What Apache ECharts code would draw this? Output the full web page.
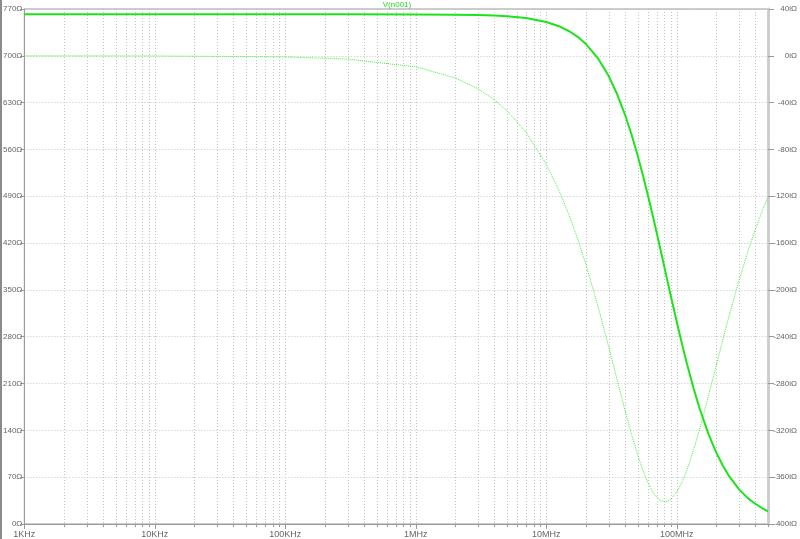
<!DOCTYPE html>
<html>
<head>
<meta charset="utf-8">
<script src="https://cdn.jsdelivr.net/npm/echarts@6/dist/echarts.min.js"></script>
<style>html,body{margin:0;padding:0;background:#fff}#c{width:800px;height:539px}</style>
</head>
<body>
<div id="c"></div>
<script>
// Frequencies (Hz)
const freqs = [1e3, 1e4, 1e5, 3e5, 1e6, 2e6, 3e6, 4e6, 5e6, 7e6, 1e7, 1.25e7, 1.5e7, 1.75e7, 2e7, 2.5e7, 3e7, 3.5e7, 4e7, 4.5e7, 5e7, 5.5e7, 6e7, 6.5e7, 7e7, 7.5e7, 8e7, 8.5e7, 9e7, 1e8, 1.1e8, 1.2e8, 1.35e8, 1.5e8, 1.75e8, 2e8, 2.25e8, 2.5e8, 3e8, 3.5e8, 4e8, 4.5e8, 5e8];
// Real part (Ω), thick trace, left axis
const reZ = [762, 762, 762, 762, 761.9, 761.5, 761.0, 760.2, 759.1, 756.4, 750.6, 744.3, 736.7, 728.0, 718.2, 695.7, 670.1, 642.1, 612.6, 582.3, 551.8, 521.5, 492.0, 463.5, 436.2, 410.3, 385.7, 362.6, 341.0, 301.9, 267.9, 238.5, 201.7, 172.0, 134.4, 107.4, 87.4, 72.4, 51.8, 38.7, 30.0, 23.9, 19.0];
// Imaginary part (iΩ), dotted trace, right axis
const imZ = [0, -0.1, -0.9, -2.8, -9.4, -18.8, -28.2, -37.5, -46.9, -65.4, -92.7, -114.9, -136.4, -157.3, -177.3, -214.7, -248.2, -277.5, -302.5, -323.5, -340.6, -354.1, -364.5, -372.0, -377.0, -379.9, -381.0, -380.6, -378.9, -372.7, -363.8, -353.4, -336.2, -318.6, -290.5, -265.1, -242.9, -223.4, -191.8, -167.4, -148.2, -132.9, -120.3];
// Axis tick labels
const xTickLabels = {1e3: '1KHz', 1e4: '10KHz', 1e5: '100KHz', 1e6: '1MHz', 1e7: '10MHz', 1e8: '100MHz'};
const leftUnit = 'Ω';
const rightUnit = 'iΩ';
const traceName = 'V(n001)';

// vertical grid line frequencies (1..9 per decade)
const gridFreqs = [];
for (let d = 3; d <= 8; d++) {
  for (let m = 1; m <= 9; m++) {
    const f = m * Math.pow(10, d);
    if (f > 5e8) break;
    gridFreqs.push([f, m === 1 ? 1 : 0]);
  }
}

const chart = echarts.init(document.getElementById('c'), null, {renderer: 'canvas'});
const font = 'Liberation Sans, Arial, sans-serif';
chart.setOption({
  animation: false,
  backgroundColor: '#fff',
  title: {
    text: traceName, left: 397, top: 1, textAlign: 'center', padding: 0,
    textStyle: {fontSize: 8, fontWeight: 'normal', color: '#22dd22', fontFamily: font}
  },
  graphic: [{type: 'rect', shape: {x: 0, y: 0, width: 2, height: 539}, style: {fill: '#8a8a8a'}}],
  grid: {left: 24, right: 30, top: 9, bottom: 15, show: true, borderColor: '#9a9a9a', borderWidth: 1},
  xAxis: {
    type: 'log', logBase: 10, min: 1e3, max: 5e8,
    axisLine: {show: true, lineStyle: {color: '#9a9a9a'}},
    axisTick: {show: false},
    minorTick: {show: false},
    splitLine: {show: false},
    minorSplitLine: {show: false},
    axisLabel: {
      fontSize: 9, color: '#666', fontFamily: font, margin: 6,
      formatter: v => xTickLabels[Math.round(v)] || ''
    }
  },
  yAxis: [{
    type: 'value', min: 0, max: 770, interval: 70, position: 'left',
    axisLine: {show: true, lineStyle: {color: '#9a9a9a'}},
    axisTick: {show: true, length: 4, lineStyle: {color: '#9a9a9a'}},
    splitLine: {show: true, lineStyle: {color: '#c4c4c4', type: [1, 2], width: 1}},
    axisLabel: {fontSize: 8, color: '#666', fontFamily: font, margin: 2, formatter: v => v + leftUnit}
  }, {
    type: 'value', min: -400, max: 40, interval: 40, position: 'right',
    axisLine: {show: true, lineStyle: {color: '#cfcfcf', width: 3}},
    axisTick: {show: true, length: 6, lineStyle: {color: '#9a9a9a'}},
    splitLine: {show: false},
    axisLabel: {fontSize: 8, color: '#666', fontFamily: font, margin: 29, align: 'right', formatter: v => v + rightUnit}
  }],
  series: [{
    type: 'custom', xAxisIndex: 0, yAxisIndex: 0, silent: true, clip: false, z: 1,
    data: gridFreqs,
    encode: {x: 0},
    renderItem: function (params, api) {
      const f = api.value(0);
      const major = api.value(1);
      const top = api.coord([f, 770]);
      const bot = api.coord([f, 0]);
      const x = Math.round(top[0]) + 0.5;
      const children = [];
      if (f > 1e3) {
        children.push({type: 'line', shape: {x1: x, y1: top[1], x2: x, y2: bot[1]},
          style: {stroke: '#c4c4c4', lineDash: [1, 2], lineWidth: 1}});
      }
      children.push({type: 'line', shape: {x1: x, y1: bot[1], x2: x, y2: bot[1] + (major ? 5 : 3)},
        style: {stroke: '#9a9a9a', lineWidth: 1}});
      return {type: 'group', children: children};
    }
  }, {
    name: 'im', type: 'line', xAxisIndex: 0, yAxisIndex: 1, z: 3,
    data: freqs.map((f, i) => [f, imZ[i]]),
    showSymbol: false,
    lineStyle: {color: '#44ee44', width: 1, type: [1, 1]}
  }, {
    name: 're', type: 'line', xAxisIndex: 0, yAxisIndex: 0, z: 4,
    data: freqs.map((f, i) => [f, reZ[i]]),
    showSymbol: false,
    lineStyle: {color: '#1de31d', width: 2}
  }]
});
</script>
</body>
</html>
